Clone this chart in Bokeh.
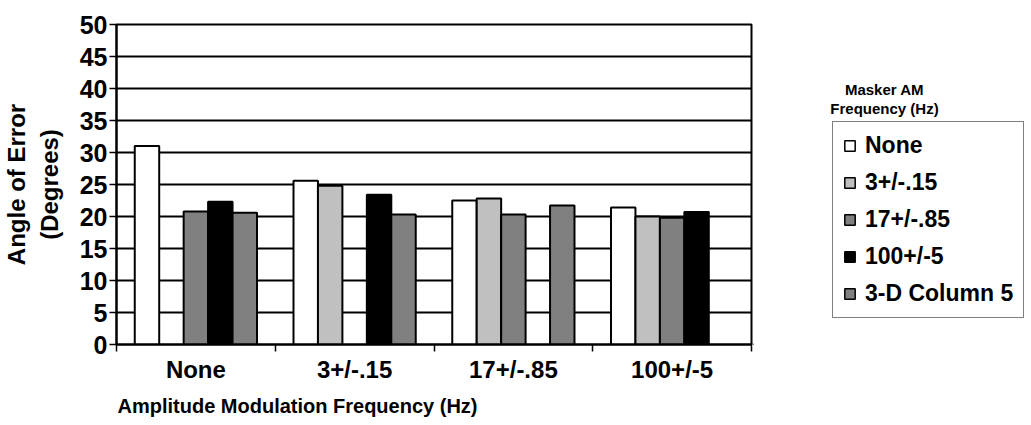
import math
from bokeh.plotting import figure
from bokeh.layouts import row
from bokeh.models import (Range1d, FixedTicker, Legend, LegendItem, Label, Title, ColumnDataSource)
from bokeh.embed import file_html
from bokeh.resources import INLINE

categories = ["None", "3+/-.15", "17+/-.85", "100+/-5"]
series_names = ["None", "3+/-.15", "17+/-.85", "100+/-5", "3-D Column 5"]
series_colors = ["#FFFFFF", "#C0C0C0", "#808080", "#000000", "#808080"]
nan = float("nan")
vals_none = [31.0, nan, 20.8, 22.3, 20.6]
vals_3 = [25.6, 24.8, nan, 23.4, 20.3]
vals_17 = [22.5, 22.8, 20.3, nan, 21.7]
vals_100 = [21.4, 20.0, 19.8, 20.7, nan]
groups = [vals_none, vals_3, vals_17, vals_100]
y_ticks = list(range(0, 55, 5))
legend_title = ["Masker AM", "Frequency (Hz)"]
x_title = "Amplitude Modulation Frequency (Hz)"
y_title = "Angle of Error\n(Degrees)"

FONT = "Liberation Sans"
H = 425
W1 = 753
W2 = 1031 - W1
FRAME_TOP, FRAME_BOTTOM = 24, 344

p = figure(width=W1, height=H, output_backend="svg", toolbar_location=None,
           x_range=Range1d(0, len(categories)), y_range=Range1d(0, 50),
           min_border_left=116, min_border_right=2, min_border_top=FRAME_TOP,
           min_border_bottom=H - FRAME_BOTTOM)

bar_w = 0.154
for j, name in enumerate(series_names):
    xs, tops = [], []
    for i, g in enumerate(groups):
        v = g[j]
        if not math.isnan(v):
            xs.append(i + 0.5 + (j - 2) * bar_w)
            tops.append(v)
    src = ColumnDataSource(dict(x=xs, top=tops))
    p.vbar(x="x", top="top", width=bar_w, bottom=0, source=src,
           fill_color=series_colors[j], line_color="black", line_width=2)

p.xgrid.visible = False
p.ygrid.grid_line_color = "black"
p.ygrid.grid_line_width = 2
p.ygrid.grid_line_alpha = 1.0
p.ygrid.ticker = FixedTicker(ticks=y_ticks)

p.outline_line_color = "black"
p.outline_line_width = 2
p.outline_line_alpha = 1.0

p.yaxis.ticker = FixedTicker(ticks=y_ticks)
p.yaxis.axis_line_width = 2
p.yaxis.major_tick_line_width = 1.5
p.yaxis.major_tick_out = 7
p.yaxis.major_tick_in = 0
p.yaxis.minor_tick_line_color = None
p.yaxis.major_label_text_font = FONT
p.yaxis.major_label_text_font_style = "bold"
p.yaxis.major_label_text_font_size = "25px"
p.yaxis.major_label_text_color = "black"
p.yaxis.major_label_standoff = 2
p.yaxis.axis_label = y_title
p.yaxis.axis_label_text_font = FONT
p.yaxis.axis_label_text_font_style = "bold"
p.yaxis.axis_label_text_font_size = "24px"
p.yaxis.axis_label_text_color = "black"
p.yaxis.axis_label_standoff = 14

p.xaxis.ticker = FixedTicker(ticks=[i + 0.5 for i in range(len(categories))],
                             minor_ticks=list(range(len(categories) + 1)))
p.xaxis.major_label_overrides = {i + 0.5: c for i, c in enumerate(categories)}
p.xaxis.axis_line_width = 2
p.xaxis.major_tick_line_color = None
p.xaxis.minor_tick_line_color = "black"
p.xaxis.minor_tick_line_width = 1.5
p.xaxis.minor_tick_out = 7
p.xaxis.minor_tick_in = 0
p.xaxis.major_label_text_font = FONT
p.xaxis.major_label_text_font_style = "bold"
p.xaxis.major_label_text_font_size = "24px"
p.xaxis.major_label_text_color = "black"
p.xaxis.major_label_standoff = 4

p.add_layout(Title(text=x_title, align="left", offset=1, standoff=14,
                   text_font=FONT, text_font_style="bold", text_font_size="20px",
                   text_color="black"), "below")

# legend panel
p2 = figure(width=W2, height=H, output_backend="svg", toolbar_location=None,
            x_range=Range1d(0, 1), y_range=Range1d(0, 1), min_border=0,
            x_axis_location=None, y_axis_location=None)
p2.outline_line_color = None
p2.grid.visible = False
# off-range helper renderers only supply legend swatches
dummies = [p2.vbar(x=[-10], top=[0], width=0.1, fill_color=c, line_color="black", line_width=1.5)
           for c in series_colors]

legend = Legend(items=[LegendItem(label=n, renderers=[r]) for n, r in zip(series_names, dummies)],
                location=(832 - W1, FRAME_BOTTOM - 318))
legend.label_text_font = FONT
legend.label_text_font_style = "bold"
legend.label_text_font_size = "23px"
legend.label_text_color = "black"
legend.glyph_width = 13
legend.glyph_height = 13
legend.label_height = 26
legend.spacing = 10
legend.padding = 10
legend.margin = 0
legend.label_standoff = 9
legend.border_line_color = "black"
legend.border_line_width = 1.5
legend.background_fill_alpha = 1.0
p2.add_layout(legend, "center")

for txt, yy in zip(legend_title, [89, 108]):
    p2.add_layout(Label(x=884 - W1, y=FRAME_BOTTOM - yy, x_units="screen", y_units="screen",
                        text=txt, text_align="center", text_baseline="alphabetic",
                        text_font=FONT, text_font_style="bold", text_font_size="15px",
                        text_color="black"))

layout = row(p, p2)
open("out.html", "w").write(file_html(layout, INLINE))
